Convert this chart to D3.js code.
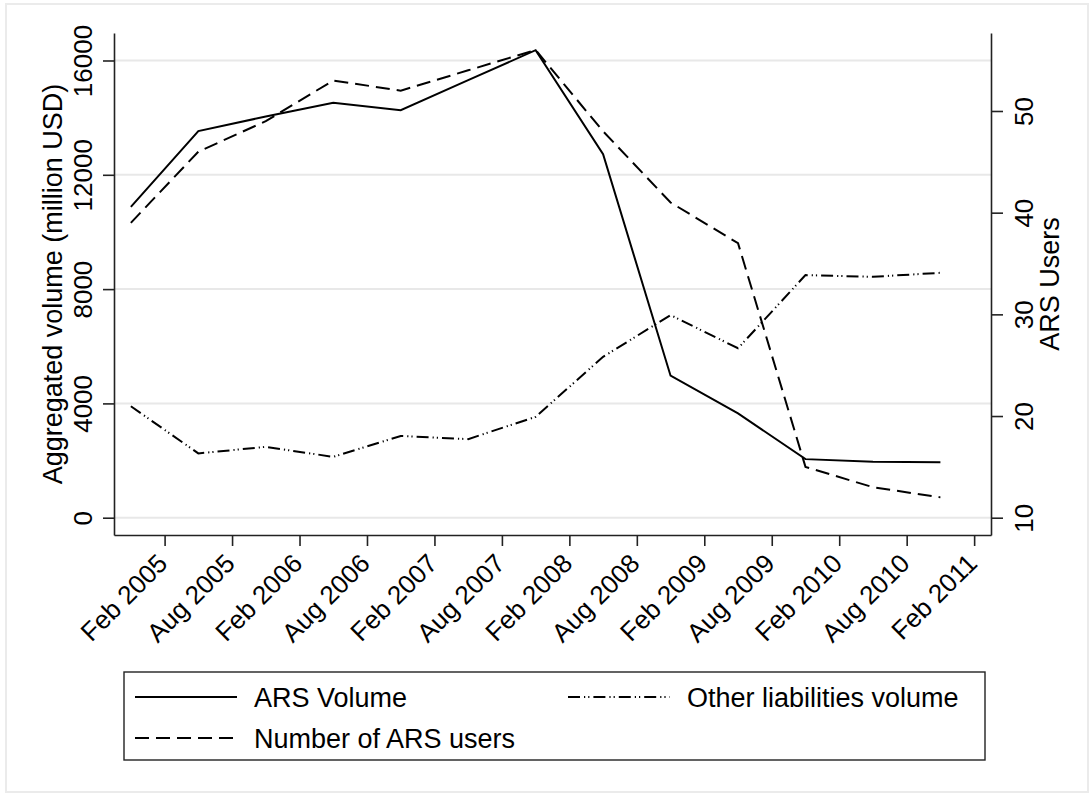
<!DOCTYPE html>
<html>
<head>
<meta charset="utf-8">
<script src="https://cdn.jsdelivr.net/npm/d3@7"></script>
<style>
  html, body { margin: 0; padding: 0; background: #fff; }
  svg { display: block; font-family: "Liberation Sans", Arial, Helvetica, sans-serif; }
</style>
</head>
<body>
<svg id="chart" width="1090" height="796"></svg>
<script>
// Semiannual observation dates (year-month)
const periods = ["2004-11","2005-05","2005-11","2006-05","2006-11","2007-05","2007-11",
                 "2008-05","2008-11","2009-05","2009-11","2010-05","2010-11"];

// ARS volume, million USD (left axis)
const arsVolume = [10880, 13530, 14040, 14520, 14260, 15310, 16360,
                   12720, 4970, 3650, 2050, 1960, 1940];

// Other liabilities volume, million USD (left axis)
const otherVolume = [3900, 2250, 2480, 2130, 2860, 2750, 3530,
                     5630, 7090, 5930, 8490, 8430, 8570];

// Number of ARS users (right axis)
const arsUsers = [39, 46, 49, 53, 52, 54, 56, 48, 41, 37, 15, 13, 12];

// Axis ticks
const xTickDates = ["2005-02","2005-08","2006-02","2006-08","2007-02","2007-08","2008-02",
                    "2008-08","2009-02","2009-08","2010-02","2010-08","2011-02"];
const xTickLabels = ["Feb 2005","Aug 2005","Feb 2006","Aug 2006","Feb 2007","Aug 2007","Feb 2008",
                     "Aug 2008","Feb 2009","Aug 2009","Feb 2010","Aug 2010","Feb 2011"];
const leftTicks = [0, 4000, 8000, 12000, 16000];
const rightTicks = [10, 20, 30, 40, 50];

const legendItems = ["ARS Volume", "Other liabilities volume", "Number of ARS users"];

// month index helper
const monthIndex = s => { const [y, m] = s.split("-").map(Number); return y * 12 + (m - 1); };

const svg = d3.select("#chart");
const font = "\"Liberation Sans\", Arial, Helvetica, sans-serif";

// plot region
const plotL = 114, plotR = 991, plotT = 33, plotB = 535;

// outer graph-region frame
svg.append("rect")
  .attr("x", 6).attr("y", 4).attr("width", 1082).attr("height", 788)
  .attr("fill", "#fff").attr("stroke", "#ebebeb").attr("stroke-width", 2);

const x0 = monthIndex(xTickDates[0]);
const x1 = monthIndex(xTickDates[xTickDates.length - 1]);
const x = d3.scaleLinear().domain([x0 - 4.5, x1 + 1.5]).range([plotL, plotR]);
const yL = d3.scaleLinear().domain([-605, 16962]).range([plotB, plotT]);
const yR = d3.scaleLinear().domain([8.3, 57.67]).range([plotB, plotT]);

// horizontal grid lines
svg.append("g").selectAll("line").data(leftTicks).join("line")
  .attr("x1", plotL).attr("x2", plotR)
  .attr("y1", d => yL(d)).attr("y2", d => yL(d))
  .attr("stroke", "#e8e8e8").attr("stroke-width", 2);

// left axis
const gL = svg.append("g").attr("transform", `translate(${plotL},0)`)
  .call(d3.axisLeft(yL).tickValues(leftTicks).tickFormat(d3.format("d")).tickSize(11).tickSizeOuter(0));
// right axis
const gR = svg.append("g").attr("transform", `translate(${plotR},0)`)
  .call(d3.axisRight(yR).tickValues(rightTicks).tickFormat(d3.format("d")).tickSize(12).tickSizeOuter(0));
// bottom axis
const xTickIdx = xTickDates.map(monthIndex);
const gB = svg.append("g").attr("transform", `translate(0,${plotB})`)
  .call(d3.axisBottom(x).tickValues(xTickIdx)
    .tickFormat((d, i) => xTickLabels[i]).tickSize(11).tickSizeOuter(0));

[gL, gR, gB].forEach(g => {
  g.selectAll(".domain").attr("stroke", "#222").attr("stroke-width", 1.6);
  g.selectAll(".tick line").attr("stroke", "#222").attr("stroke-width", 1.6);
  g.selectAll("text").attr("fill", "#000").style("font-family", font).style("font-size", "26px");
});

gL.selectAll(".tick text")
  .attr("x", null).attr("dy", null).attr("text-anchor", "middle")
  .attr("transform", "translate(-22,0) rotate(-90)");
gR.selectAll(".tick text")
  .attr("x", null).attr("dy", null).attr("text-anchor", "middle")
  .attr("transform", "translate(42,0) rotate(-90)");
gB.selectAll(".tick text")
  .attr("y", null).attr("dy", null).attr("text-anchor", "end")
  .attr("transform", "translate(4,30) rotate(-45)");

// axis titles
svg.append("text")
  .attr("transform", `translate(62,${(plotT + plotB) / 2}) rotate(-90)`)
  .attr("text-anchor", "middle").style("font-family", font).style("font-size", "27px")
  .text("Aggregated volume (million USD)");
svg.append("text")
  .attr("transform", `translate(1059,${(plotT + plotB) / 2}) rotate(-90)`)
  .attr("text-anchor", "middle").style("font-family", font).style("font-size", "27px")
  .text("ARS Users");

// series
const px = periods.map(monthIndex);
const dashStyles = { solid: null, dash: "14,7", dashdot: "12,4,1.2,3,1.2,4" };
const series = [
  { values: arsVolume, scale: yL, dash: dashStyles.solid },
  { values: otherVolume, scale: yL, dash: dashStyles.dashdot },
  { values: arsUsers, scale: yR, dash: dashStyles.dash }
];
series.forEach(s => {
  const line = d3.line().x((d, i) => x(px[i])).y(d => s.scale(d));
  svg.append("path").datum(s.values)
    .attr("d", line).attr("fill", "none").attr("stroke", "#000")
    .attr("stroke-width", 2).attr("stroke-linejoin", "miter")
    .attr("stroke-dasharray", s.dash);
});

// legend
const lg = svg.append("g");
lg.append("rect").attr("x", 124).attr("y", 672).attr("width", 861).attr("height", 88)
  .attr("fill", "#fff").attr("stroke", "#222").attr("stroke-width", 1.4);
const legendPos = [
  { sx: 135, ty: 697, dash: dashStyles.solid },
  { sx: 568, ty: 697, dash: dashStyles.dashdot },
  { sx: 135, ty: 738, dash: dashStyles.dash }
];
legendItems.forEach((name, i) => {
  const p = legendPos[i];
  lg.append("line").attr("x1", p.sx).attr("x2", p.sx + 102)
    .attr("y1", p.ty).attr("y2", p.ty)
    .attr("stroke", "#000").attr("stroke-width", 2).attr("stroke-dasharray", p.dash);
  lg.append("text").attr("x", p.sx + 119).attr("y", p.ty + 10)
    .style("font-family", font).style("font-size", "27px").text(name);
});
</script>
</body>
</html>
